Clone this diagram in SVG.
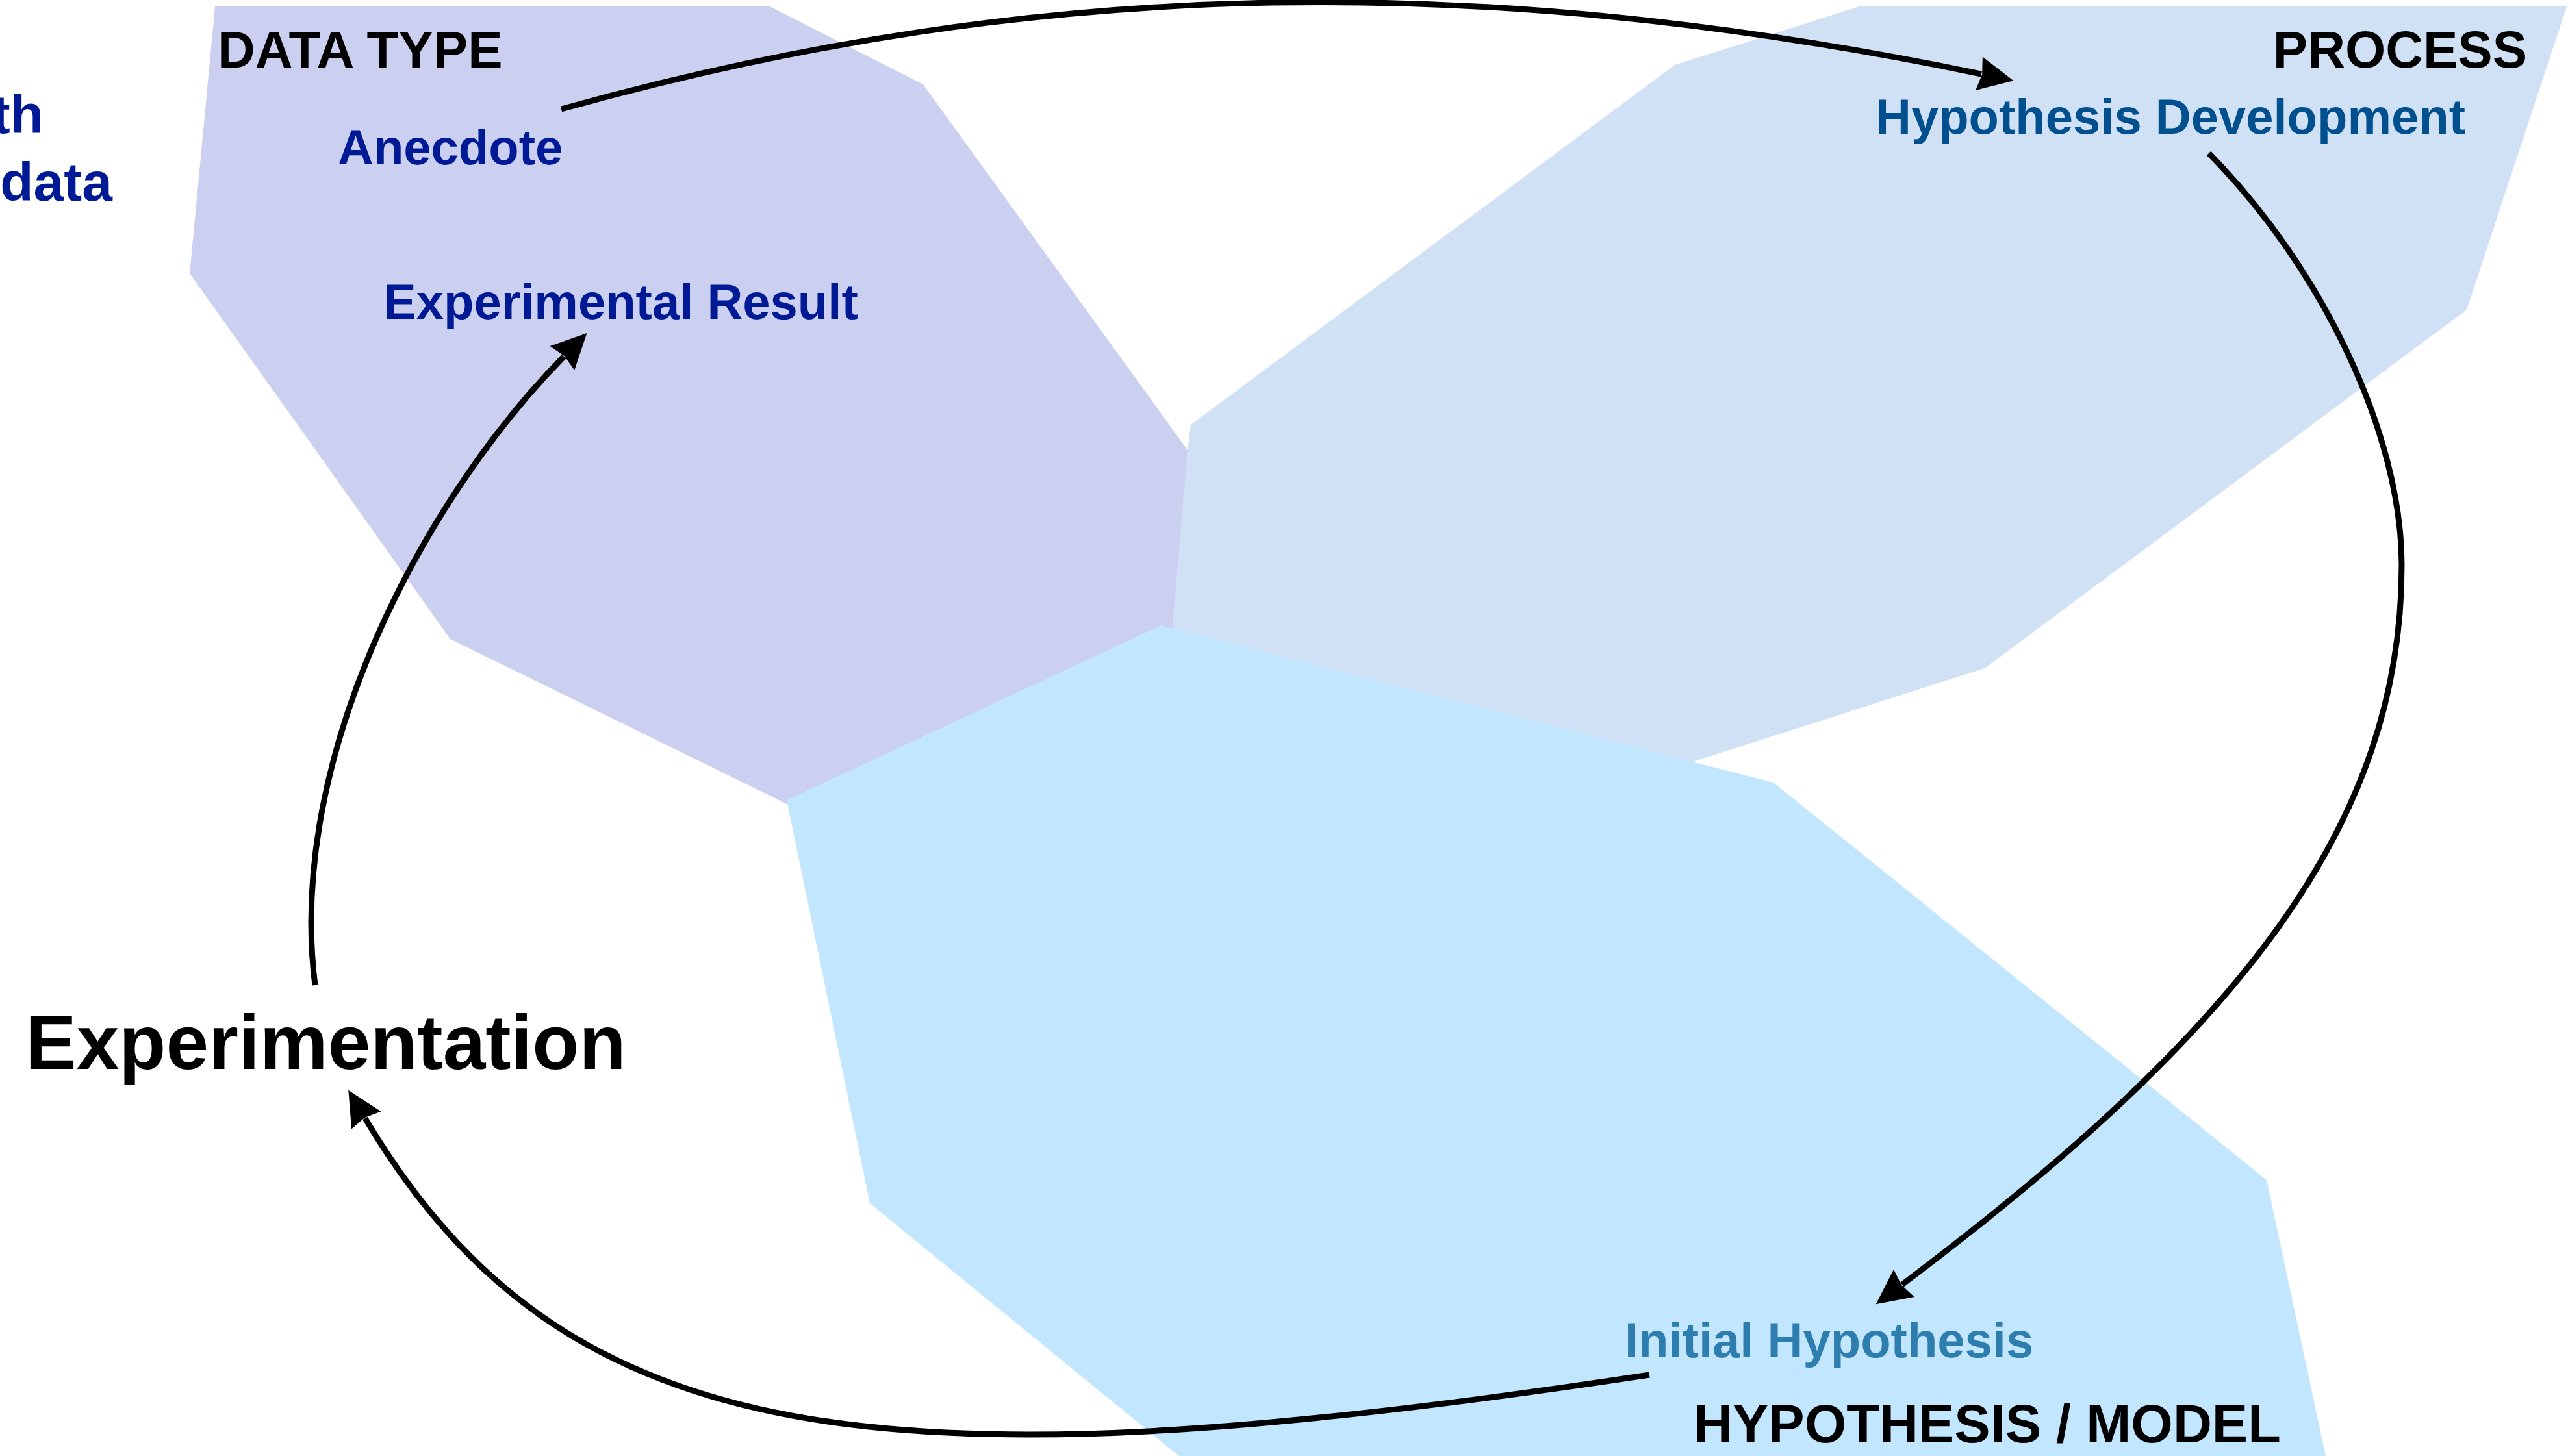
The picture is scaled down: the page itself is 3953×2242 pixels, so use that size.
<svg xmlns="http://www.w3.org/2000/svg" width="3953" height="2242" viewBox="0 0 3953 2242">
  <style>
    text { font-family: "Liberation Sans", Arial, Helvetica, sans-serif; font-weight: bold; }
    .hdr { fill: #000000; font-size: 80px; }
    .data { fill: #001A95; font-size: 76px; }
    .proc { fill: #00508F; font-size: 76px; }
    .hyp { fill: #2E7DAF; font-size: 76px; }
    .conn { fill: none; stroke: #000000; stroke-width: 9; }
  </style>
  <defs>
    <marker id="arrow" markerUnits="userSpaceOnUse" markerWidth="60" markerHeight="60" viewBox="-46 -24 50 48" refX="-42" refY="0" orient="auto">
      <path d="M0,0 L-45,-22 L-41,0 L-45,22 Z" fill="#000000"/>
    </marker>
  </defs>
  <rect width="3953" height="2242" fill="#ffffff"/>

  <g id="region-process">
    <polygon points="1833,654 2578,100 2862,10 3951,10 3797,477 3055,1029 2400,1239 1790,1010" fill="#D0E0F5"/>
  </g>
  <g id="region-data-type">
    <polygon points="331,10 1185,10 1421,130 1828,693 1802,1000 1260,1262 693,984 292,421" fill="#CCD0F0"/>
  </g>
  <g id="region-hypothesis-model">
    <polygon points="1787,963 2730,1205 3489,1817 3580,2242 1815,2242 1339,1853 1211,1232" fill="#C2E6FE"/>
  </g>

  <g id="connectors">
    <path class="conn" d="M864,168 C1614,-42 2300,-41 3050,114" marker-end="url(#arrow)"/>
    <path class="conn" d="M3400,236 C3575,413 3697,670 3697,870 C3697,1270 3448,1587 2928,1978" marker-end="url(#arrow)"/>
    <path class="conn" d="M2539,2117 C1352,2297 868,2237 562,1722" marker-end="url(#arrow)"/>
    <path class="conn" d="M485,1517 C440,1160 658,762 868,549" marker-end="url(#arrow)"/>
  </g>

  <g id="label-cut-th"><text class="data" x="67" y="205" text-anchor="end" style="font-size:84px">th</text></g>
  <g id="label-cut-data"><text class="data" x="173" y="309" text-anchor="end" style="font-size:84px">data</text></g>
  <g id="label-data-type"><text class="hdr" x="335" y="104">DATA TYPE</text></g>
  <g id="node-anecdote"><text class="data" x="520" y="253">Anecdote</text></g>
  <g id="node-experimental-result"><text class="data" x="590" y="491">Experimental Result</text></g>
  <g id="label-process"><text class="hdr" x="3890" y="104" text-anchor="end">PROCESS</text></g>
  <g id="node-hypothesis-development"><text class="proc" x="2887" y="206">Hypothesis Development</text></g>
  <g id="node-initial-hypothesis"><text class="hyp" x="2501" y="2090">Initial Hypothesis</text></g>
  <g id="label-hypothesis-model"><text class="hdr" x="2607" y="2221" style="font-size:83px">HYPOTHESIS / MODEL</text></g>
  <g id="node-experimentation"><text x="39" y="1646" style="font-size:118px" fill="#000000">Experimentation</text></g>
</svg>
